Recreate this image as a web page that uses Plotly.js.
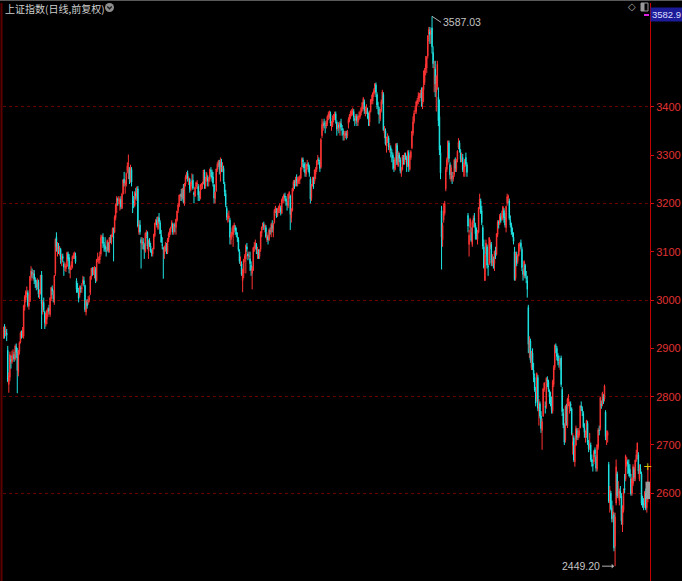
<!DOCTYPE html>
<html>
<head>
<meta charset="utf-8">
<script src="https://cdn.plot.ly/plotly-3.0.1.min.js"></script>
<style>html,body{margin:0;padding:0;background:#000;}#chart{width:682px;height:581px;}</style>
</head>
<body>
<div id="chart"></div>
<script>
// Daily candles, 2016-06-03 .. 2018-12-03 (one row per month block)
const open = [
2926,2937,2931,2932,2896,2825,2840,2877,2872,2887,2886,2878,2903,2893,2850,2893,2913,2930,
2931,2925,2985,3000,3012,3015,2987,2997,3049,3057,3052,3054,3041,3036,3027,3037,3010,3015,3052,2985,2995,
2975,2950,2960,2975,2983,2970,3003,3024,3010,2995,3055,3130,3105,3110,3100,3105,3083,3090,3075,3069,3065,3070,3095,
3088,3062,3070,3068,3088,3090,3092,3040,3025,3015,3010,3025,3023,3035,3040,3030,2975,2995,2995,3000,
3015,3048,3062,3058,3060,3062,3040,3085,3082,3083,3095,3128,3130,3115,3112,3102,
3102,3118,3100,3128,3120,3135,3130,3140,3170,3195,3208,3205,3200,3208,3190,3220,3250,3238,3240,3266,3280,3270,
3245,3270,3205,3205,3195,3220,3212,3230,3140,3155,3125,3115,3120,3115,3100,3135,3140,3100,3122,3112,3100,3095,
3105,3133,3157,3165,3148,3170,3160,3135,3115,3108,3095,3105,3110,3098,3125,3135,3140,3152,
3157,3140,3155,3150,3165,3185,3195,3216,3220,3212,3228,3200,3240,3252,3262,3248,3250,3228,
3240,3248,3222,3215,3235,3240,3235,3215,3210,3235,3238,3245,3265,3235,3250,3252,3245,3250,3268,3265,3255,3238,3210,
3225,3270,3280,3285,3262,3285,3270,3272,3240,3220,3190,3168,3170,3165,3125,3135,3135,3150,
3150,3140,3130,3125,3100,3075,3075,3040,3055,3085,3085,3110,3095,3090,3085,3072,3055,3062,3108,3110,
3115,3100,3100,3090,3105,3138,3150,3155,3150,3150,3125,3130,3125,3142,3140,3155,3145,3160,3185,3185,3175,3185,
3190,3190,3180,3205,3210,3215,3210,3200,3195,3218,3215,3170,3185,3230,3240,3240,3250,3242,3245,3248,3252,
3275,3290,3282,3270,3260,3278,3280,3275,3250,3210,3240,3248,3245,3260,3270,3288,3290,3285,3275,3340,3360,3365,3362,
3360,3365,3378,3380,3385,3362,3362,3375,3378,3385,3368,3355,3362,3355,3365,3355,3350,3340,3342,3345,3340,
3365,3372,3382,3385,3388,3390,3375,3372,3380,3368,3378,3380,3388,3395,3405,3410,3388,
3392,3392,3382,3368,3390,3412,3412,3428,3430,3445,3425,3400,3395,3375,3392,3410,3425,3345,3350,3318,3330,3335,
3315,3315,3305,3300,3290,3270,3288,3320,3278,3300,3290,3265,3270,3295,3285,3300,3295,3278,3305,3270,3295,
3315,3345,3370,3390,3390,3408,3415,3418,3425,3428,3405,3435,3450,3478,3480,3505,3550,3555,3550,3563,3512,3480,
3478,3430,3440,3420,3380,3305,3185,3125,3165,3180,3230,3270,3290,3325,3280,
3250,3255,3250,3260,3288,3270,3290,3315,3325,3305,3288,3295,3265,3275,3295,3280,3175,3115,3150,3140,3115,3160,
3170,3155,3140,3125,3140,3190,3205,3185,3150,3110,3040,3095,3110,3070,3075,3110,3115,3075,
3085,3075,3098,3095,3135,3160,3158,3172,3168,3175,3185,3172,3150,3200,3212,3205,3165,3155,3140,3130,3100,3045,
3090,3080,3092,3112,3118,3105,3060,3050,3072,3045,3040,2985,2900,2915,2860,2890,2855,2840,2810,2795,
2840,2770,2785,2760,2730,2760,2815,2780,2780,2835,2830,2812,2800,2790,2770,2825,2860,2905,2900,2885,2870,2865,
2880,2815,2765,2740,2710,2780,2740,2790,2775,2785,2775,2700,2715,2665,2700,2730,2715,2720,2735,2780,2775,2765,2735,
2720,2720,2745,2700,2695,2700,2670,2660,2665,2690,2675,2650,2695,2730,2735,2785,2785,2800,2795,
2768,2715,2720,2660,2580,2600,2570,2555,2555,2490,2580,2640,2600,2585,2605,2595,2535,2565,
2610,2630,2660,2665,2660,2650,2630,2600,2620,2650,2630,2670,2682,2680,2630,2650,2640,2585,2580,2575,2600,2570,
2588
];
const high = [
2945,2950,2945,2940,2905,2850,2893,2885,2895,2898,2893,2908,2910,2901,2896,2914,2935,2937,
2944,2990,3010,3020,3028,3020,3010,3050,3070,3065,3062,3062,3047,3042,3045,3042,3022,3052,3060,3000,3005,
2978,2973,2980,2985,2990,3006,3027,3030,3020,3052,3127,3140,3120,3118,3112,3108,3095,3096,3080,3078,3075,3100,3100,
3095,3070,3080,3092,3098,3100,3098,3045,3035,3025,3030,3030,3035,3050,3048,3032,3000,3002,3008,3010,
3050,3066,3068,3068,3070,3068,3085,3098,3090,3100,3135,3135,3138,3120,3130,3110,
3125,3120,3130,3135,3136,3150,3150,3175,3200,3215,3212,3215,3212,3215,3222,3250,3265,3248,3264,3285,3301,3275,
3280,3275,3225,3215,3225,3232,3235,3236,3165,3165,3130,3130,3128,3118,3140,3145,3142,3125,3128,3118,3105,3108,
3137,3160,3168,3172,3173,3180,3165,3145,3130,3110,3112,3120,3118,3128,3140,3148,3152,3165,
3160,3158,3160,3168,3185,3200,3218,3220,3230,3232,3240,3242,3258,3265,3268,3256,3252,3245,
3262,3260,3225,3235,3245,3248,3240,3225,3240,3242,3245,3268,3270,3255,3265,3258,3255,3272,3275,3270,3265,3240,3225,
3272,3285,3290,3290,3295,3292,3285,3278,3245,3228,3195,3180,3185,3170,3140,3150,3155,3160,
3155,3150,3140,3130,3105,3090,3080,3065,3085,3095,3115,3118,3100,3100,3100,3080,3070,3110,3120,3125,
3118,3110,3105,3105,3142,3152,3160,3162,3158,3155,3140,3135,3148,3150,3160,3165,3160,3188,3195,3190,3190,3195,
3200,3195,3210,3215,3220,3222,3215,3205,3220,3225,3218,3190,3232,3248,3248,3255,3260,3255,3256,3258,3275,
3295,3295,3285,3285,3282,3290,3285,3280,3255,3240,3255,3255,3270,3275,3290,3300,3295,3290,3335,3375,3370,3375,3370,
3372,3382,3390,3392,3390,3370,3382,3385,3390,3390,3372,3368,3368,3370,3375,3362,3355,3350,3350,3350,3352,
3378,3385,3392,3395,3398,3395,3380,3385,3385,3382,3390,3392,3400,3410,3420,3415,3400,
3405,3398,3388,3392,3416,3425,3430,3438,3448,3450,3430,3410,3400,3395,3415,3435,3430,3360,3355,3338,3345,3340,
3325,3320,3312,3305,3295,3295,3325,3325,3308,3305,3295,3275,3300,3300,3305,3305,3298,3310,3310,3300,3310,
3350,3380,3392,3402,3412,3418,3430,3428,3435,3440,3440,3475,3480,3505,3505,3548,3565,3565,3562,3587.03,3525,3495,
3495,3465,3495,3440,3415,3320,3195,3160,3200,3205,3275,3295,3330,3330,3285,
3280,3265,3265,3292,3295,3292,3310,3335,3330,3312,3305,3302,3285,3292,3305,3285,3180,3145,3170,3150,3165,3175,
3180,3160,3150,3145,3192,3220,3210,3195,3155,3125,3095,3125,3115,3075,3130,3125,3120,3095,
3090,3102,3110,3138,3165,3165,3178,3180,3185,3195,3190,3180,3195,3220,3218,3210,3175,3160,3150,3140,3110,3100,
3100,3095,3118,3120,3125,3110,3065,3082,3075,3060,3050,2990,2925,2920,2895,2900,2870,2848,2820,2850,
2845,2795,2790,2770,2755,2818,2830,2790,2840,2842,2835,2815,2810,2800,2835,2865,2908,2910,2905,2890,2885,2880,
2885,2820,2775,2745,2782,2785,2798,2805,2790,2790,2778,2725,2720,2700,2740,2735,2735,2735,2782,2790,2780,2770,2745,
2730,2752,2750,2710,2725,2705,2680,2670,2690,2695,2680,2702,2735,2740,2800,2792,2810,2805,2825,
2772,2730,2730,2665,2615,2605,2585,2575,2560,2560,2670,2645,2625,2610,2615,2600,2575,2610,
2640,2680,2675,2670,2670,2660,2640,2633,2660,2655,2670,2690,2705,2685,2660,2660,2645,2595,2590,2605,2610,2595,
2656
];
const low = [
2920,2920,2925,2915,2830,2808,2832,2858,2868,2875,2872,2875,2880,2807,2842,2887,2910,2920,
2922,2920,2978,2995,3005,2985,2980,2996,3040,3045,3040,3033,3025,3020,3022,3005,3002,3012,2940,2970,2975,
2940,2945,2950,2965,2970,2965,2998,3010,2995,2990,3050,3100,3090,3095,3092,3075,3070,3078,3050,3060,3058,3068,3080,
3055,3045,3062,3065,3085,3085,3075,3015,3015,2995,3005,3015,3015,3030,3028,2975,2968,2982,2990,2995,
3010,3042,3050,3052,3045,3035,3038,3078,3075,3075,3090,3118,3108,3100,3100,3090,
3100,3098,3098,3118,3115,3130,3080,3138,3165,3180,3195,3198,3185,3188,3188,3218,3235,3220,3235,3262,3250,3240,
3243,3235,3180,3190,3193,3208,3205,3150,3135,3135,3065,3105,3105,3085,3098,3128,3105,3085,3110,3098,3090,3090,
3105,3130,3155,3150,3145,3158,3136,3118,3105,3044,3085,3100,3095,3095,3120,3130,3135,3148,
3135,3135,3140,3135,3162,3180,3192,3205,3205,3208,3200,3195,3235,3250,3245,3238,3222,3225,
3235,3228,3200,3213,3230,3230,3205,3205,3208,3228,3230,3240,3230,3230,3245,3235,3235,3245,3255,3245,3235,3200,3200,
3225,3265,3275,3260,3245,3265,3265,3240,3215,3192,3165,3160,3162,3115,3115,3130,3110,3140,
3135,3130,3120,3100,3075,3070,3050,3016,3045,3078,3055,3100,3082,3085,3060,3050,3022,3060,3100,3105,
3095,3085,3085,3085,3100,3130,3145,3145,3140,3128,3120,3115,3122,3135,3130,3140,3130,3158,3180,3170,3172,3180,
3180,3175,3178,3200,3200,3205,3195,3185,3190,3210,3145,3160,3183,3225,3230,3235,3235,3235,3240,3240,3250,
3270,3275,3265,3255,3255,3270,3265,3255,3200,3205,3235,3230,3240,3250,3265,3280,3280,3265,3272,3335,3350,3355,3345,
3355,3360,3372,3375,3360,3350,3358,3368,3372,3365,3340,3350,3345,3340,3350,3340,3330,3330,3335,3332,3335,
3355,3368,3375,3380,3382,3370,3360,3365,3360,3360,3372,3375,3382,3390,3395,3385,3380,
3385,3375,3360,3360,3388,3405,3405,3420,3425,3420,3395,3385,3365,3370,3388,3405,3350,3335,3320,3305,3325,3310,
3305,3295,3285,3270,3265,3268,3285,3280,3275,3285,3262,3255,3268,3280,3280,3290,3265,3275,3265,3268,3290,
3312,3340,3365,3385,3385,3402,3405,3410,3418,3400,3395,3410,3445,3465,3470,3500,3535,3530,3530,3510,3480,3430,
3420,3390,3435,3360,3300,3250,3063,3110,3160,3175,3225,3265,3280,3285,3250,
3245,3240,3245,3255,3265,3265,3285,3312,3305,3285,3285,3265,3255,3255,3278,3255,3140,3090,3140,3120,3110,3150,
3150,3125,3125,3115,3138,3188,3178,3155,3105,3065,3040,3090,3065,3050,3072,3105,3070,3070,
3065,3060,3085,3092,3130,3148,3155,3160,3165,3165,3160,3150,3140,3195,3200,3165,3150,3135,3130,3115,3040,3040,
3070,3075,3090,3100,3105,3060,3040,3045,3045,3035,3005,2890,2880,2870,2855,2855,2830,2810,2780,2790,
2770,2740,2755,2725,2690,2758,2810,2765,2775,2820,2810,2785,2780,2765,2765,2820,2855,2890,2875,2865,2860,2855,
2820,2760,2735,2700,2705,2740,2735,2780,2765,2770,2720,2680,2665,2655,2698,2710,2710,2715,2735,2770,2760,2735,2715,
2705,2715,2700,2685,2690,2665,2655,2645,2660,2675,2645,2645,2690,2720,2730,2775,2780,2785,2790,
2710,2700,2705,2580,2560,2565,2540,2540,2480,2449.20,2575,2590,2590,2575,2590,2535,2520,2560,
2600,2625,2655,2640,2635,2632,2595,2595,2615,2625,2625,2665,2670,2640,2625,2640,2575,2570,2565,2570,2565,2560,
2581
];
const close = [
2939,2934,2936,2927,2833,2842,2887,2873,2885,2888,2878,2905,2892,2854,2896,2912,2932,2930,
2932,2988,3007,3017,3017,2989,2995,3049,3060,3054,3055,3043,3037,3027,3040,3012,3016,3051,2992,2995,2979,
2953,2971,2978,2982,2977,3004,3026,3019,3002,3050,3126,3110,3110,3104,3108,3085,3090,3086,3068,3070,3071,3098,3085,
3064,3068,3073,3090,3092,3095,3079,3022,3024,3003,3026,3024,3026,3042,3033,2980,2999,2988,2999,3005,
3049,3066,3059,3062,3064,3042,3084,3085,3085,3091,3129,3132,3117,3113,3105,3101,
3123,3103,3129,3126,3134,3148,3129,3172,3197,3211,3207,3206,3209,3193,3219,3249,3242,3242,3262,3278,3283,3250,
3274,3244,3205,3200,3223,3216,3233,3153,3156,3141,3118,3123,3119,3103,3138,3140,3111,3123,3115,3102,3097,3104,
3136,3159,3166,3155,3172,3162,3137,3120,3113,3104,3109,3114,3102,3124,3137,3143,3150,3160,
3141,3157,3154,3167,3184,3197,3217,3218,3213,3230,3203,3240,3254,3262,3251,3253,3229,3242,
3247,3231,3218,3233,3243,3241,3217,3213,3238,3240,3241,3269,3238,3251,3262,3246,3249,3270,3267,3253,3242,3211,3223,
3271,3281,3287,3270,3289,3274,3276,3246,3223,3197,3171,3173,3174,3130,3135,3141,3153,3155,
3144,3136,3128,3104,3080,3079,3053,3062,3084,3091,3113,3105,3091,3091,3075,3062,3065,3108,3111,3118,
3103,3106,3092,3103,3141,3151,3159,3154,3154,3131,3133,3124,3145,3141,3157,3148,3158,3186,3192,3174,3189,3193,
3196,3183,3208,3213,3218,3213,3204,3198,3219,3223,3177,3188,3231,3245,3238,3251,3244,3248,3250,3254,3273,
3293,3286,3273,3263,3280,3282,3276,3262,3209,3238,3252,3247,3269,3269,3287,3291,3288,3272,3332,3363,3366,3364,3361,
3367,3380,3385,3386,3366,3366,3377,3380,3385,3372,3354,3363,3357,3367,3358,3353,3342,3344,3346,3340,3349,
3374,3383,3389,3390,3391,3379,3373,3382,3371,3379,3381,3388,3397,3408,3417,3391,3393,
3396,3384,3372,3389,3414,3416,3428,3433,3448,3430,3403,3400,3383,3393,3411,3431,3352,3353,3323,3334,3338,3317,
3318,3310,3304,3294,3273,3290,3323,3280,3304,3293,3267,3268,3297,3288,3301,3298,3281,3307,3276,3297,3307,
3349,3369,3386,3392,3410,3414,3422,3426,3429,3411,3437,3444,3475,3488,3502,3547,3560,3549,3558,3524,3489,3481,
3447,3463,3488,3371,3310,3263,3130,3155,3185,3200,3269,3290,3329,3293,3259,
3274,3255,3257,3290,3272,3289,3308,3327,3311,3292,3292,3270,3280,3291,3281,3264,3153,3134,3167,3123,3161,3169,
3164,3137,3132,3139,3191,3209,3181,3160,3111,3067,3092,3118,3072,3069,3129,3118,3076,3083,
3082,3101,3092,3137,3162,3160,3175,3164,3175,3193,3170,3155,3194,3214,3214,3169,3155,3141,3136,3121,3042,3096,
3076,3092,3115,3116,3110,3067,3053,3080,3050,3045,3022,2908,2916,2876,2890,2860,2845,2814,2787,2848,
2776,2787,2760,2734,2748,2816,2828,2778,2838,2832,2815,2799,2788,2773,2830,2860,2906,2904,2883,2874,2870,2877,
2825,2769,2741,2706,2780,2745,2795,2796,2786,2781,2724,2706,2669,2699,2734,2715,2725,2730,2781,2778,2770,2738,2726,
2721,2751,2705,2692,2703,2670,2665,2657,2687,2682,2652,2700,2731,2730,2798,2782,2807,2792,2822,
2717,2721,2726,2584,2607,2569,2547,2562,2487,2551,2655,2595,2604,2604,2599,2543,2569,2603,
2607,2677,2666,2660,2642,2636,2599,2631,2655,2633,2669,2680,2704,2646,2652,2647,2580,2576,2575,2602,2568,2589,
2624
];
const yTickLabels = [2600, 2700, 2800, 2900, 3000, 3100, 3200, 3300, 3400];
const yGridValues = [2600, 2800, 3000, 3200, 3400];
const titleText = '上证指数(日线,前复权)';
const cornerValue = '3582.9';

const N = close.length;
const xs = close.map((_, i) => i);
const last = N - 1;

let iMax = 0, iMin = 0;
for (let i = 0; i < N; i++) {
  if (high[i] > high[iMax]) iMax = i;
  if (low[i] < low[iMin]) iMin = i;
}

const yRange = [2418.5, 3614.6];
const UP = '#ff3434', DOWN = '#1fe4e4';

const traces = [
  {
    type: 'candlestick', x: xs, open: open, high: high, low: low, close: close,
    increasing: {line: {color: UP, width: 1}, fillcolor: UP},
    decreasing: {line: {color: DOWN, width: 1}, fillcolor: DOWN},
    whiskerwidth: 0, hoverinfo: 'skip', showlegend: false
  },
  {
    type: 'bar', x: [last], base: [Math.min(open[last], close[last])],
    y: [Math.abs(close[last] - open[last])], width: [4.5],
    marker: {color: '#9c9c9c', line: {width: 0}}, yaxis: 'y2',
    hoverinfo: 'skip', showlegend: false
  }
];

const px2py = p => 1 - (p - 3) / 578;   // pixel row -> paper y
const px2px = p => (p - 3) / 647;       // pixel col -> paper x

const layout = {
  width: 682, height: 581,
  margin: {l: 3, r: 32, t: 3, b: 0, pad: 0},
  paper_bgcolor: '#000000', plot_bgcolor: '#000000',
  showlegend: false, dragmode: false, hovermode: false,
  xaxis: {range: [-0.5, 611], visible: false, rangeslider: {visible: false}, fixedrange: true},
  yaxis: {
    side: 'right', range: yRange, tickvals: yTickLabels, ticktext: yTickLabels.map(String),
    ticks: 'outside', ticklen: 3, tickcolor: '#d01010', tickwidth: 1,
    tickfont: {color: '#e23232', size: 11, family: 'Liberation Sans, Arial, sans-serif'},
    showline: true, linecolor: '#c40000', linewidth: 1, showgrid: false, zeroline: false, fixedrange: true
  },
  yaxis2: {
    overlaying: 'y', side: 'right', range: yRange, tickvals: yGridValues,
    showticklabels: false, ticks: '', showgrid: true, gridcolor: '#680000', griddash: 'dot', gridwidth: 1,
    zeroline: false, showline: false, fixedrange: true
  },
  shapes: [
    {type: 'line', xref: 'paper', yref: 'paper', x0: px2px(0), x1: px2px(682), y0: px2py(0.5), y1: px2py(0.5), line: {color: '#5a5a5a', width: 1}},
    {type: 'line', xref: 'paper', yref: 'paper', x0: px2px(1.5), x1: px2px(1.5), y0: px2py(3), y1: px2py(581), line: {color: '#5c0000', width: 2}},
    {type: 'circle', xref: 'paper', yref: 'paper', x0: px2px(105), x1: px2px(114), y0: px2py(12), y1: px2py(3), fillcolor: '#8e8e8e', line: {width: 0}},
    {type: 'path', xref: 'paper', yref: 'paper',
     path: 'M' + px2px(107.3) + ',' + px2py(6.5) + ' L' + px2px(109.5) + ',' + px2py(8.8) + ' L' + px2px(111.7) + ',' + px2py(6.5),
     line: {color: '#1a1a1a', width: 1.3}},
    {type: 'rect', xref: 'paper', yref: 'paper', x0: px2px(641), x1: px2px(648), y0: px2py(11), y1: px2py(3), fillcolor: 'rgba(0,0,0,0)', line: {color: '#9a9a9a', width: 1}},
    {type: 'rect', xref: 'paper', yref: 'paper', x0: px2px(641), x1: px2px(644.5), y0: px2py(11), y1: px2py(3), fillcolor: '#9a9a9a', line: {width: 0}},
    {type: 'line', xref: 'paper', yref: 'paper', x0: px2px(644), x1: px2px(649), y0: px2py(15), y1: px2py(15), line: {color: '#e020e0', width: 2}}
  ],
  annotations: [
    {xref: 'paper', yref: 'paper', x: 0, y: px2py(8), xanchor: 'left', yanchor: 'middle', showarrow: false,
     text: titleText, font: {family: 'Noto Sans CJK SC, sans-serif', size: 10, color: '#cfcfcf'}},
    {xref: 'paper', yref: 'paper', x: px2px(632), y: px2py(7), xanchor: 'center', yanchor: 'middle', showarrow: false,
     text: '◇', font: {family: 'DejaVu Sans', size: 10, color: '#a8a8a8'}},
    {xref: 'paper', yref: 'paper', x: 1, xshift: 0, y: px2py(14.5), xanchor: 'left', yanchor: 'middle', showarrow: false,
     text: cornerValue, bgcolor: '#1c1c98', borderpad: 1,
     font: {family: 'Liberation Sans, Arial, sans-serif', size: 9.5, color: '#dcdcff'}},
    {x: iMax, y: high[iMax], text: high[iMax].toFixed(2), showarrow: true, arrowhead: 0, arrowwidth: 1,
     arrowcolor: '#b4b4b4', ax: 9, ay: 6, xanchor: 'left', yanchor: 'middle', standoff: 0,
     font: {family: 'Liberation Sans, Arial, sans-serif', size: 10.5, color: '#c4c4c4'}},
    {x: iMin, y: low[iMin], text: low[iMin].toFixed(2), showarrow: true, arrowhead: 1, arrowsize: 0.8, arrowwidth: 1,
     arrowcolor: '#b4b4b4', ax: -13, ay: 0, xanchor: 'right', yanchor: 'middle', standoff: 1,
     font: {family: 'Liberation Sans, Arial, sans-serif', size: 10.5, color: '#c4c4c4'}},
    {x: last, y: high[last], text: '+', showarrow: false, xanchor: 'center', yanchor: 'middle',
     font: {family: 'DejaVu Sans', size: 11, color: '#d8c000'}}
  ]
};

Plotly.newPlot('chart', traces, layout, {staticPlot: true, displayModeBar: false});
</script>
</body>
</html>
